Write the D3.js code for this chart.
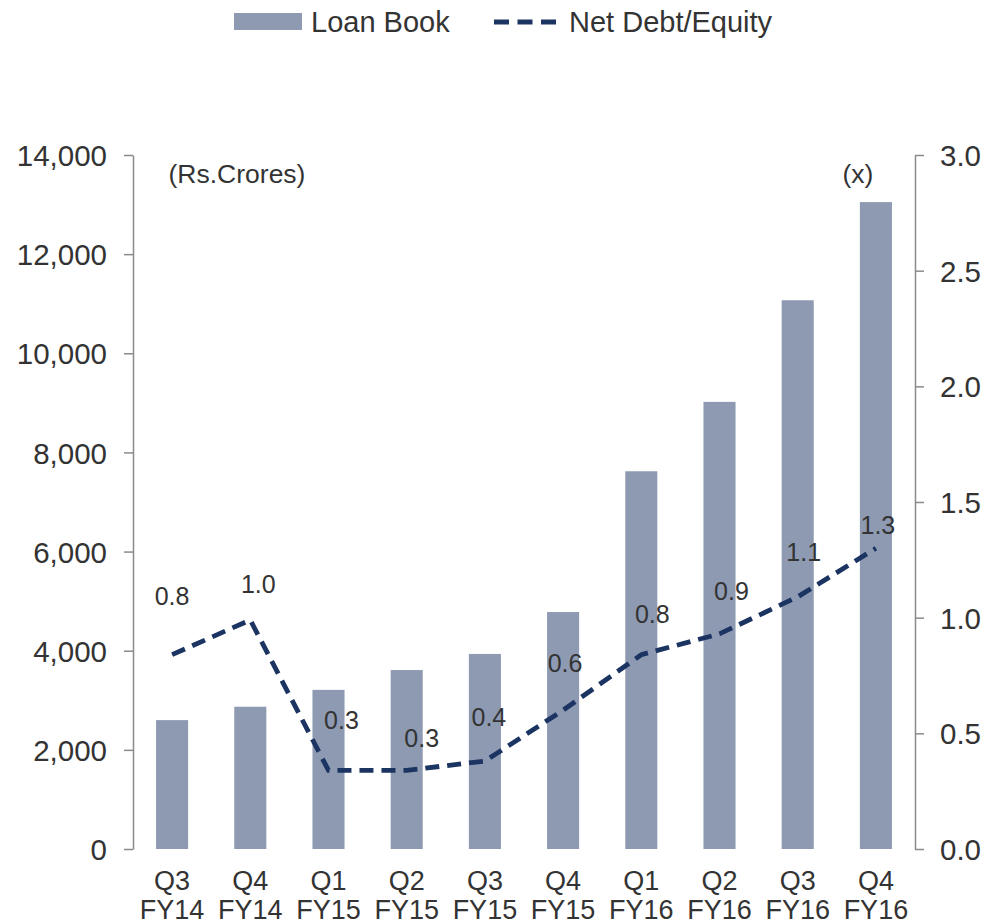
<!DOCTYPE html>
<html>
<head>
<meta charset="utf-8">
<script src="https://cdn.jsdelivr.net/npm/d3@7"></script>
<style>
    body { margin: 0; background: #fff; }
    svg text { font-family: "Liberation Sans", Arial, sans-serif; fill: #333; }
</style>
</head>
<body>
<div id="chart"></div>
<script>
// 数据
const quarters = ["Q3", "Q4", "Q1", "Q2", "Q3", "Q4", "Q1", "Q2", "Q3", "Q4"]
const years = ["FY14", "FY14", "FY15", "FY15", "FY15", "FY15", "FY16", "FY16", "FY16", "FY16"]
const loanBook = [2600, 2870, 3210, 3610, 3935, 4780, 7620, 9020, 11070, 13050]
const netDebtEquity = [0.84, 0.99, 0.34, 0.34, 0.38, 0.60, 0.84, 0.93, 1.09, 1.30]
const leftTicks = [0, 2000, 4000, 6000, 8000, 10000, 12000, 14000]
const rightTicks = [0, 0.5, 1.0, 1.5, 2.0, 2.5, 3.0]

// 数据标签的偏移（布局用）
const labelDx = [0, 8, 13, 15, 4, 2, 11, 12, 6, 2]
const labelDy = [-50, -27, -41, -23, -35, -38, -32, -34, -36, -14]

const width = 998, height = 922
const svg = d3.select("#chart").append("svg")
    .attr("width", width)
    .attr("height", height)

const plotLeft = 133, plotRight = 915, plotTop = 155, plotBottom = 849
const idx = d3.range(quarters.length)

const x = d3.scaleBand().domain(idx).range([plotLeft, plotRight]).paddingInner(0.59).paddingOuter(0.295)
const y = d3.scaleLinear().domain([0, 14000]).range([plotBottom, plotTop])
const y2 = d3.scaleLinear().domain([0, 3]).range([plotBottom, plotTop])

// 左轴
const gl = svg.append("g")
    .attr("transform", `translate(${plotLeft},0)`)
    .call(d3.axisLeft(y).tickValues(leftTicks).tickFormat(d3.format(",")).tickSize(9).tickSizeOuter(0).tickPadding(17))
gl.selectAll("path, line").attr("stroke", "#8a8a8a").attr("stroke-width", 1.5)
gl.selectAll("text").attr("font-size", 29.5).attr("fill", "#333").attr("dy", "0.36em")

// 右轴
const gr = svg.append("g")
    .attr("transform", `translate(${plotRight},0)`)
    .call(d3.axisRight(y2).tickValues(rightTicks).tickFormat(d3.format(".1f")).tickSize(9).tickSizeOuter(0).tickPadding(16))
gr.selectAll("path, line").attr("stroke", "#8a8a8a").attr("stroke-width", 1.5)
gr.selectAll("text").attr("font-size", 29.5).attr("fill", "#333").attr("dy", "0.36em")
gl.attr("font-family", null)
gr.attr("font-family", null)

// 柱子
svg.append("g")
    .selectAll("rect")
    .data(loanBook)
    .enter().append("rect")
    .attr("x", (d, i) => x(i))
    .attr("width", x.bandwidth())
    .attr("y", d => y(d))
    .attr("height", d => plotBottom - y(d))
    .attr("fill", "#8d9ab2")

// 折线
const line = d3.line()
    .x((d, i) => x(i) + x.bandwidth() / 2)
    .y(d => y2(d))
svg.append("path")
    .datum(netDebtEquity)
    .attr("d", line)
    .attr("fill", "none")
    .attr("stroke", "#1b3461")
    .attr("stroke-width", 4.8)
    .attr("stroke-dasharray", "14,8")

// 数据标签
svg.append("g")
    .selectAll("text")
    .data(netDebtEquity)
    .enter().append("text")
    .attr("x", (d, i) => x(i) + x.bandwidth() / 2 + labelDx[i])
    .attr("y", (d, i) => y2(d) + labelDy[i])
    .attr("text-anchor", "middle")
    .attr("font-size", 25)
    .text(d => d3.format(".1f")(d))

// x轴标签
const xl = svg.append("g")
    .selectAll("text")
    .data(idx)
    .enter().append("text")
    .attr("x", i => x(i) + x.bandwidth() / 2)
    .attr("y", 890)
    .attr("text-anchor", "middle")
    .attr("font-size", 27)
xl.append("tspan").text(i => quarters[i])
xl.append("tspan")
    .attr("x", i => x(i) + x.bandwidth() / 2)
    .attr("dy", 29)
    .text(i => years[i])

// 单位
svg.append("text").attr("x", 237).attr("y", 183).attr("text-anchor", "middle")
    .attr("font-size", 26.5).text("(Rs.Crores)")
svg.append("text").attr("x", 858).attr("y", 183).attr("text-anchor", "middle")
    .attr("font-size", 26.5).text("(x)")

// 图例
const lg = svg.append("g")
lg.append("rect").attr("x", 234).attr("y", 13).attr("width", 68).attr("height", 17).attr("fill", "#8d9ab2")
lg.append("text").attr("x", 311).attr("y", 32).attr("font-size", 29).text("Loan Book")
lg.append("line").attr("x1", 494).attr("x2", 556).attr("y1", 22).attr("y2", 22)
    .attr("stroke", "#1b3461").attr("stroke-width", 5).attr("stroke-dasharray", "15,8.5")
lg.append("text").attr("x", 569).attr("y", 32).attr("font-size", 29).text("Net Debt/Equity")
</script>
</body>
</html>
